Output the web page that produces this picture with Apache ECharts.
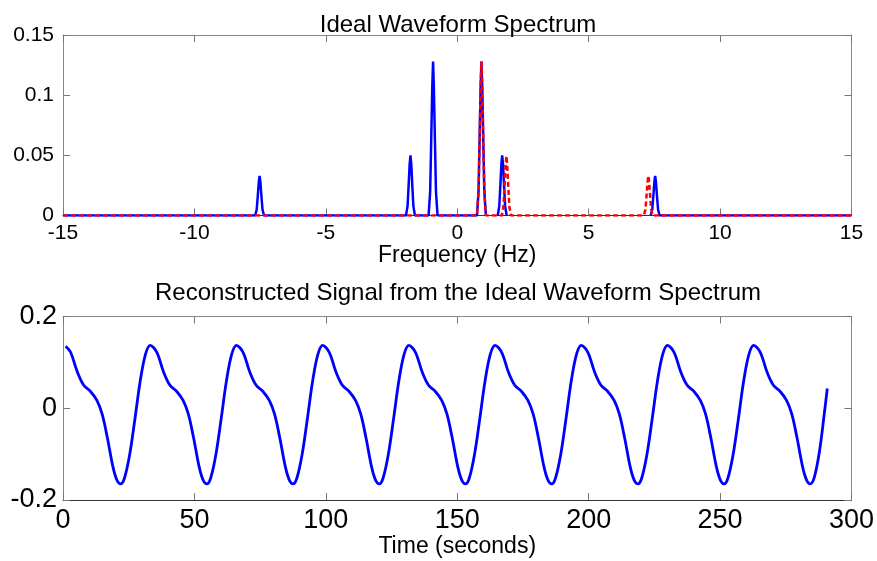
<!DOCTYPE html>
<html>
<head>
<meta charset="utf-8">
<script src="https://cdn.jsdelivr.net/npm/echarts@6/dist/echarts.min.js"></script>
<style>
html,body{margin:0;padding:0;background:#fff;}
#c{width:877px;height:561px;}
</style>
</head>
<body>
<div id="c"></div>
<script>
// ---- Spectrum (top panel) ----
var freqTicks = [-15, -10, -5, 0, 5, 10, 15];
var blueFreq = [-15, -7.69, -7.63, -7.59, -7.55, -7.52, -7.49, -7.45, -7.41, -7.35,
  -1.95, -1.89, -1.85, -1.81, -1.78, -1.75, -1.71, -1.67, -1.61,
  -1.09, -1.03, -0.99, -0.95, -0.92, -0.89, -0.85, -0.81, -0.75,
  0.75, 0.81, 0.85, 0.89, 0.92, 0.95, 0.99, 1.03, 1.09, 1.3,
  1.54, 1.60, 1.64, 1.68, 1.71, 1.74, 1.78, 1.82, 1.88, 4.5,
  7.36, 7.42, 7.46, 7.50, 7.53, 7.56, 7.60, 7.64, 7.70, 15];
var blueAmp = [0, 0, 0.005, 0.016, 0.028, 0.033, 0.028, 0.016, 0.005, 0,
  0, 0.008, 0.025, 0.043, 0.050, 0.043, 0.025, 0.008, 0,
  0, 0.020, 0.063, 0.107, 0.128, 0.107, 0.063, 0.020, 0,
  0, 0.020, 0.063, 0.107, 0.128, 0.107, 0.063, 0.020, 0, null,
  0, 0.008, 0.025, 0.043, 0.050, 0.043, 0.025, 0.008, 0, null,
  0, 0.005, 0.016, 0.028, 0.033, 0.028, 0.016, 0.005, 0, 0];
var redFreq = [-15, 0.75, 0.81, 0.85, 0.89, 0.92, 0.95, 0.99, 1.03, 1.09,
  1.70, 1.76, 1.80, 1.84, 1.87, 1.90, 1.94, 1.98, 2.04,
  7.10, 7.16, 7.20, 7.24, 7.27, 7.30, 7.34, 7.38, 7.44, 15];
var redAmp = [0, 0, 0.020, 0.063, 0.107, 0.128, 0.107, 0.063, 0.020, 0,
  0, 0.008, 0.025, 0.042, 0.0495, 0.042, 0.025, 0.008, 0,
  0, 0.005, 0.016, 0.028, 0.033, 0.028, 0.016, 0.005, 0, 0];

// ---- Reconstructed signal (bottom panel) ----
var timeTicks = [0, 50, 100, 150, 200, 250, 300];
var timeS = [
  1.0, 2.9, 5.4, 7.9, 10.4, 12.9, 14.9, 16.9, 18.9, 20.4, 21.9, 23.4, 25.4, 27.4, 29.4, 31.4,
  33.2, 35.7, 38.2, 40.7, 43.2, 45.7, 47.7, 49.7, 51.7, 53.2, 54.7, 56.2, 58.2, 60.2, 62.2, 64.2,
  66.0, 68.5, 71.0, 73.5, 76.0, 78.5, 80.5, 82.5, 84.5, 86.0, 87.5, 89.0, 91.0, 93.0, 95.0, 97.0,
  98.8, 101.3, 103.8, 106.3, 108.8, 111.3, 113.3, 115.3, 117.3, 118.8, 120.3, 121.8, 123.8, 125.8, 127.8, 129.8,
  131.6, 134.1, 136.6, 139.1, 141.6, 144.1, 146.1, 148.1, 150.1, 151.6, 153.1, 154.6, 156.6, 158.6, 160.6, 162.6,
  164.4, 166.9, 169.4, 171.9, 174.4, 176.9, 178.9, 180.9, 182.9, 184.4, 185.9, 187.4, 189.4, 191.4, 193.4, 195.4,
  197.2, 199.7, 202.2, 204.7, 207.2, 209.7, 211.7, 213.7, 215.7, 217.2, 218.7, 220.2, 222.2, 224.2, 226.2, 228.2,
  230.0, 232.5, 235.0, 237.5, 240.0, 242.5, 244.5, 246.5, 248.5, 250.0, 251.5, 253.0, 255.0, 257.0, 259.0, 261.0,
  262.8, 265.3, 267.8, 270.3, 272.8, 275.3, 277.3, 279.3, 281.3, 282.8, 284.3, 285.8, 287.8, 289.8, 290.8];
var signalV = [
  0.135, 0.122, 0.080, 0.050, 0.037, 0.017, -0.013, -0.065, -0.125, -0.155, -0.165, -0.152, -0.100, -0.022, 0.060, 0.118,
  0.137, 0.122, 0.080, 0.050, 0.037, 0.017, -0.013, -0.065, -0.125, -0.155, -0.165, -0.152, -0.100, -0.022, 0.060, 0.118,
  0.137, 0.122, 0.080, 0.050, 0.037, 0.017, -0.013, -0.065, -0.125, -0.155, -0.165, -0.152, -0.100, -0.022, 0.060, 0.118,
  0.137, 0.122, 0.080, 0.050, 0.037, 0.017, -0.013, -0.065, -0.125, -0.155, -0.165, -0.152, -0.100, -0.022, 0.060, 0.118,
  0.137, 0.122, 0.080, 0.050, 0.037, 0.017, -0.013, -0.065, -0.125, -0.155, -0.165, -0.152, -0.100, -0.022, 0.060, 0.118,
  0.137, 0.122, 0.080, 0.050, 0.037, 0.017, -0.013, -0.065, -0.125, -0.155, -0.165, -0.152, -0.100, -0.022, 0.060, 0.118,
  0.137, 0.122, 0.080, 0.050, 0.037, 0.017, -0.013, -0.065, -0.125, -0.155, -0.165, -0.152, -0.100, -0.022, 0.060, 0.118,
  0.137, 0.122, 0.080, 0.050, 0.037, 0.017, -0.013, -0.065, -0.125, -0.155, -0.165, -0.152, -0.100, -0.022, 0.060, 0.118,
  0.137, 0.122, 0.080, 0.050, 0.037, 0.017, -0.013, -0.065, -0.125, -0.155, -0.165, -0.152, -0.095, -0.005, 0.043];

var FONT = '"Liberation Sans", Arial, Helvetica, sans-serif';
function pairs(xs, ys) { return xs.map(function (x, i) { return [x, ys[i]]; }); }
function fmt(v) { return String(+(+v).toFixed(3)); }

function frameAxes(gridIndex, isX, min, max, interval, opts) {
  var tickLen = 7;
  var main = {
    gridIndex: gridIndex, type: 'value', min: min, max: max, interval: interval,
    position: isX ? 'bottom' : 'left',
    splitLine: { show: false },
    axisLine: { show: true, onZero: false, lineStyle: { color: isX ? '#333' : '#888', width: 1 } },
    axisTick: { show: true, inside: true, length: tickLen, lineStyle: { color: '#777' } },
    axisLabel: { show: true, color: '#000', fontFamily: FONT, fontSize: opts.fontSize, margin: opts.margin, formatter: fmt }
  };
  if (opts.name) {
    main.name = opts.name; main.nameLocation = 'middle'; main.nameGap = opts.nameGap;
    main.nameTextStyle = { color: '#000', fontFamily: FONT, fontSize: opts.nameSize };
  }
  var mirror = {
    gridIndex: gridIndex, type: 'value', min: min, max: max, interval: interval,
    position: isX ? 'top' : 'right',
    splitLine: { show: false },
    axisLine: { show: true, onZero: false, lineStyle: { color: '#888', width: 1 } },
    axisTick: { show: true, inside: true, length: tickLen, lineStyle: { color: '#777' } },
    axisLabel: { show: false }
  };
  return [main, mirror];
}

var xA = frameAxes(0, true, freqTicks[0], freqTicks[freqTicks.length - 1], 5,
  { fontSize: 21, margin: 7, name: 'Frequency (Hz)', nameGap: 26, nameSize: 23 });
var yA = frameAxes(0, false, 0, 0.15, 0.05, { fontSize: 21, margin: 9 });
var xB = frameAxes(1, true, timeTicks[0], timeTicks[timeTicks.length - 1], 50,
  { fontSize: 27, margin: 7, name: 'Time (seconds)', nameGap: 34, nameSize: 23 });
var yB = frameAxes(1, false, -0.2, 0.2, 0.2, { fontSize: 27, margin: 6 });

var chart = echarts.init(document.getElementById('c'), null, { renderer: 'canvas' });
chart.setOption({
  animation: false,
  backgroundColor: '#fff',
  title: [
    { text: 'Ideal Waveform Spectrum', left: 453, top: 8, textAlign: 'center',
      textStyle: { fontFamily: FONT, fontSize: 24, fontWeight: 'normal', color: '#000' } },
    { text: 'Reconstructed Signal from the Ideal Waveform Spectrum', left: 453, top: 276, textAlign: 'center',
      textStyle: { fontFamily: FONT, fontSize: 24, fontWeight: 'normal', color: '#000' } }
  ],
  grid: [
    { left: 63, right: 25.5, top: 35, height: 180.5 },
    { left: 63, right: 25.5, top: 316.5, height: 183.5 }
  ],
  xAxis: [xA[0], xA[1], xB[0], xB[1]],
  yAxis: [yA[0], yA[1], yB[0], yB[1]],
  series: [
    { type: 'line', xAxisIndex: 0, yAxisIndex: 0, data: pairs(blueFreq, blueAmp),
      showSymbol: false, connectNulls: false, lineStyle: { color: '#0000ff', width: 2.5 }, z: 2 },
    { type: 'line', xAxisIndex: 0, yAxisIndex: 0, data: pairs(redFreq, redAmp),
      showSymbol: false, lineStyle: { color: '#ff0000', width: 2.5, type: [5, 3] }, z: 3 },
    { type: 'line', xAxisIndex: 2, yAxisIndex: 2, data: pairs(timeS, signalV),
      showSymbol: false, smooth: 0.35, lineStyle: { color: '#0000ff', width: 2.8 }, z: 2 }
  ]
});
</script>
</body>
</html>
